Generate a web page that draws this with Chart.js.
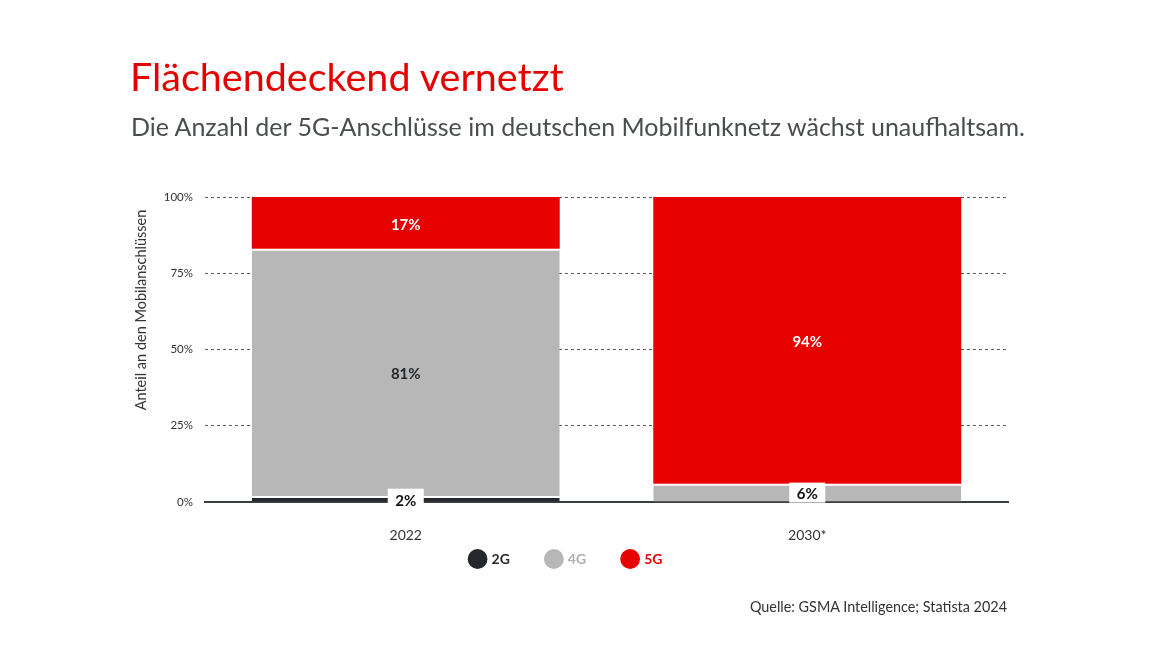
<!DOCTYPE html>
<html>
<head>
<meta charset="utf-8">
<script src="https://cdn.jsdelivr.net/npm/chart.js@4"></script>
<style>
  html, body { margin: 0; padding: 0; background: #fff; }
  body { width: 1176px; height: 661px; position: relative; overflow: hidden; font-family: Lato, sans-serif; }
  #title { position: absolute; left: 130px; top: 52px; font-size: 39.5px; color: #e60000; white-space: nowrap; }
  #subtitle { position: absolute; left: 131px; top: 111px; font-size: 25px; color: #4a4d4e; white-space: nowrap; }
  #source { position: absolute; right: 169px; top: 598px; font-size: 14.4px; color: #333; white-space: nowrap; }
  #wrap { position: absolute; left: 0; top: 0; width: 1176px; height: 661px; }
</style>
</head>
<body>
<div id="wrap"><canvas id="chart"></canvas></div>
<div id="title">Flächendeckend vernetzt</div>
<div id="subtitle">Die Anzahl der 5G-Anschlüsse im deutschen Mobilfunknetz wächst unaufhaltsam.</div>
<div id="source">Quelle: GSMA Intelligence; Statista 2024</div>
<script>
// data
const years = ['2022', '2030*'];
const series = ['2G', '4G', '5G'];
const share2G = [2, 0];
const share4G = [81, 6];
const share5G = [17, 94];
const yTicks = [0, 25, 50, 75, 100];
const yTitle = 'Anteil an den Mobilanschlüssen';

const colors = ['#25282b', '#b6b7b6', '#e60000'];
const labelColors = ['#ffffff', '#25282b', '#ffffff'];
const legendText = ['#25282b', '#b0b0b0', '#e60000'];

// value labels, small ones get a white box
const valueLabels = {
  id: 'valueLabels',
  afterDatasetsDraw(chart) {
    const ctx = chart.ctx;
    ctx.save();
    ctx.font = 'bold 15px Lato, sans-serif';
    ctx.textAlign = 'center';
    ctx.textBaseline = 'middle';
    chart.data.datasets.forEach((ds, di) => {
      const meta = chart.getDatasetMeta(di);
      meta.data.forEach((bar, i) => {
        const v = ds.data[i];
        if (!v) return;
        const cx = bar.x;
        const cy = (bar.y + bar.base) / 2;
        const txt = v + '%';
        if (v < 10) {
          ctx.fillStyle = '#fff';
          ctx.fillRect(cx - 18, cy - 10, 36, 20);
          ctx.fillStyle = '#111';
        } else {
          ctx.fillStyle = labelColors[di];
        }
        ctx.fillText(txt, cx, cy + 2);
      });
    });
    ctx.restore();
  }
};

// rotated y axis title + category labels under the axis
const axisText = {
  id: 'axisText',
  afterDraw(chart) {
    const ctx = chart.ctx;
    const a = chart.chartArea;
    ctx.save();
    ctx.font = '14px Lato, sans-serif';
    ctx.fillStyle = '#333';
    ctx.textAlign = 'center';
    ctx.textBaseline = 'middle';
    const xs = chart.scales.x;
    years.forEach((y, i) => ctx.fillText(y, xs.getPixelForValue(i), a.bottom + 33));
    ctx.translate(a.left - 64, a.top + 113);
    ctx.rotate(-Math.PI / 2);
    ctx.font = '14.5px Lato, sans-serif';
    ctx.fillText(yTitle, 0, 0);
    ctx.restore();
  }
};

const datasets = [share2G, share4G, share5G].map((d, i) => ({
  label: series[i],
  data: d,
  backgroundColor: colors[i],
  borderColor: '#ffffff',
  borderWidth: i < 2 ? { top: 2, bottom: 0, left: 0, right: 0 } : 0,
  borderSkipped: false,
  categoryPercentage: 1,
  barPercentage: 0.767
}));

new Chart(document.getElementById('chart'), {
  type: 'bar',
  data: { labels: years, datasets: datasets },
  options: {
    responsive: true,
    maintainAspectRatio: false,
    animation: false,
    layout: { padding: { left: 125, right: 168, top: 197, bottom: 85 } },
    scales: {
      x: {
        stacked: true,
        grid: { display: false, drawTicks: false },
        border: { display: true, color: '#3c3f42', width: 2 },
        ticks: { display: false },
        afterFit(scale) { scale.height = 13; }
      },
      y: {
        stacked: true,
        min: 0,
        max: 100,
        afterBuildTicks(scale) { scale.ticks = yTicks.map(v => ({ value: v })); },
        grid: {
          drawTicks: false,
          color: ctx => ctx.tick && ctx.tick.value === 0 ? 'rgba(0,0,0,0)' : '#5e5e5e',
          lineWidth: 1
        },
        border: { display: false, dash: [3, 3] },
        ticks: {
          padding: 12,
          color: '#333',
          font: { family: 'Lato', size: 11.5 },
          callback: v => v + '%'
        },
        afterFit(scale) { scale.width = 80; }
      }
    },
    plugins: {
      tooltip: { enabled: false },
      legend: {
        position: 'bottom',
        labels: {
          usePointStyle: true,
          pointStyle: 'circle',
          boxWidth: 14,
          boxHeight: 14,
          padding: 37,
          font: { family: 'Lato', size: 14, weight: 'bold' },
          generateLabels(chart) {
            const items = Chart.defaults.plugins.legend.labels.generateLabels(chart);
            items.forEach((it, i) => {
              it.fontColor = legendText[i];
              it.fillStyle = colors[i];
              it.strokeStyle = colors[i];
              it.lineWidth = 0;
            });
            return items;
          }
        }
      }
    }
  },
  plugins: [valueLabels, axisText]
});
</script>
</body>
</html>
